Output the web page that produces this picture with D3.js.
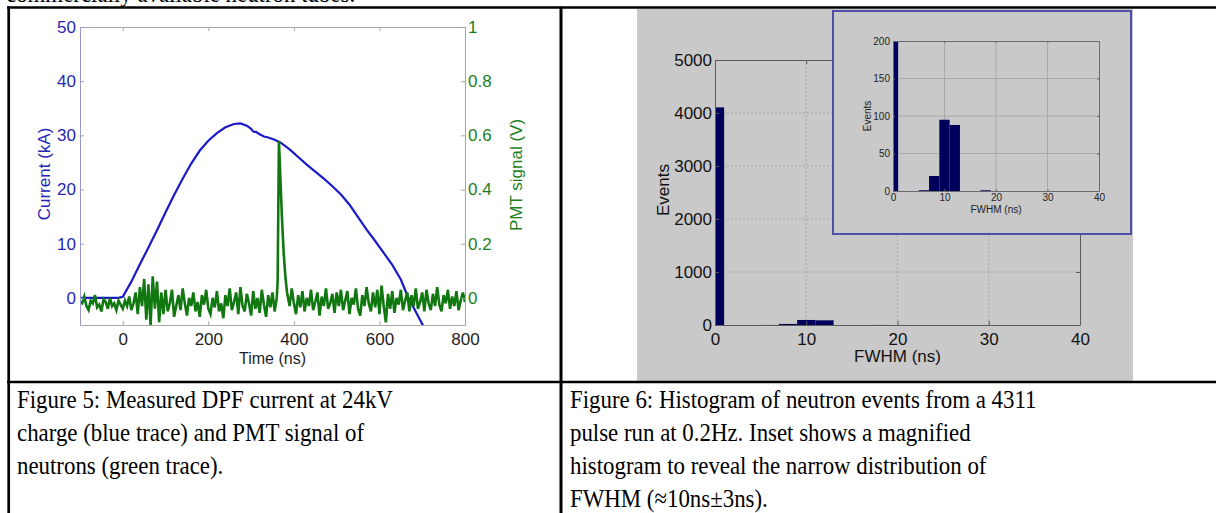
<!DOCTYPE html>
<html>
<head>
<meta charset="utf-8">
<script src="https://cdn.jsdelivr.net/npm/d3@7"></script>
<style>
  body { margin: 0; background: #fff; }
  svg { display: block; }
</style>
</head>
<body>
<svg id="page" width="1216" height="513"></svg>
<script>
// ---------- Figure 5: DPF current (kA) and PMT signal (V) vs time (ns) ----------
var currentTrace = [
  [-100, 0], [-10, 0], [0, 0.2], [20, 3], [40, 6.2], [60, 9.3], [80, 12.5], [100, 15.8],
  [120, 19], [140, 22], [160, 24.8], [180, 27.2], [200, 29], [220, 30.4], [240, 31.5],
  [260, 32.1], [275, 32.2], [290, 31.8], [300, 31.2], [305, 30.7], [312, 30.6], [320, 30.2],
  [330, 29.8], [340, 29.6], [355, 29.2], [370, 28.6], [390, 27.4], [410, 26], [430, 24.6],
  [450, 23.3], [470, 22], [490, 20.6], [510, 19.1], [530, 17.2], [550, 14.9], [570, 12.6],
  [590, 10.5], [610, 8.3], [630, 6.1], [650, 3.4], [665, 0.5], [680, -1.8], [700, -4.8], [710, -6.5]
];

var pmtTrace = [
  [-100, -0.015], [-95, -0.02], [-90, 0.005], [-85, -0.03], [-80, -0.045], [-75, -0.01], [-70, -0.02],
  [-65, 0.01], [-60, -0.035], [-55, -0.025], [-50, -0.05], [-45, -0.005], [-40, -0.015], [-35, -0.04],
  [-30, 0.0], [-25, -0.03], [-20, -0.02], [-15, -0.045], [-10, -0.01], [-5, -0.025], [0, -0.04],
  [5, -0.01], [10, -0.03], [15, 0.005], [20, -0.045], [25, -0.02], [30, 0.02], [35, -0.06],
  [40, 0.04], [45, -0.03], [50, 0.07], [55, -0.08], [60, 0.05], [65, -0.1], [70, 0.08],
  [75, -0.04], [80, 0.06], [85, -0.09], [90, 0.02], [95, -0.06], [100, 0.03], [105, -0.05],
  [110, -0.02], [115, 0.03], [120, -0.07], [125, -0.03], [130, 0.01], [135, -0.045], [140, 0.035],
  [145, -0.02], [150, -0.065], [155, 0.0], [160, -0.03], [165, 0.02], [170, -0.05], [175, -0.015],
  [180, -0.07], [185, 0.01], [190, -0.025], [195, 0.03], [200, -0.04], [205, -0.06], [210, 0.0],
  [215, -0.035], [220, 0.025], [225, -0.05], [230, -0.02], [235, -0.075], [240, 0.01], [245, -0.03],
  [250, 0.035], [255, -0.045], [260, -0.015], [265, 0.02], [270, -0.06], [275, 0.04], [280, -0.03],
  [285, -0.05], [290, 0.015], [295, -0.02], [300, -0.065], [305, 0.025], [310, -0.04], [315, 0.0],
  [320, -0.055], [325, 0.03], [330, -0.025], [335, -0.07], [340, 0.01], [345, -0.035], [350, 0.02],
  [355, -0.05], [360, 0.0], [362, 0.06], [365, 0.58], [368, 0.46], [372, 0.3], [376, 0.17],
  [380, 0.08], [384, 0.02], [390, -0.03], [395, 0.035], [400, -0.02], [405, -0.06], [410, 0.01],
  [415, -0.035], [420, 0.025], [425, -0.05], [430, 0.0], [435, -0.03], [440, 0.03], [445, -0.045],
  [450, -0.015], [455, 0.02], [460, -0.065], [465, 0.005], [470, -0.03], [475, 0.035], [480, -0.04],
  [485, -0.02], [490, 0.015], [495, -0.055], [500, 0.02], [505, -0.03], [510, 0.03], [515, -0.045],
  [520, -0.01], [525, 0.025], [530, -0.06], [535, 0.0], [540, -0.025], [545, 0.035], [550, -0.04],
  [555, -0.065], [560, 0.01], [565, -0.03], [570, 0.04], [575, -0.02], [580, -0.05], [585, 0.02],
  [590, -0.035], [595, 0.03], [600, -0.06], [605, 0.045], [610, -0.03], [615, -0.09], [620, 0.015],
  [625, -0.04], [630, 0.025], [635, -0.055], [640, 0.0], [645, -0.025], [650, 0.03], [655, -0.045],
  [660, -0.01], [665, 0.02], [670, -0.05], [675, 0.01], [680, -0.03], [685, 0.035], [690, -0.04],
  [695, -0.015], [700, 0.02], [705, -0.05], [710, 0.03], [715, -0.02], [720, -0.045], [725, 0.015],
  [730, -0.03], [735, 0.04], [740, -0.025], [745, -0.05], [750, 0.01], [755, -0.02], [760, 0.03],
  [765, -0.04], [770, 0.005], [775, -0.03], [780, 0.025], [785, -0.045], [790, -0.01], [795, 0.02],
  [800, -0.015]
];

var timeTicks = [0, 200, 400, 600, 800];
var currentTicks = [0, 10, 20, 30, 40, 50];
var pmtTicks = [0, 0.2, 0.4, 0.6, 0.8, 1];

// ---------- Figure 6: histogram of FWHM (bins 2 ns wide) ----------
var binCenters = [0, 6, 8, 10, 12, 18];
var binCounts = [4106, 1, 20, 95, 88, 1];
var binWidth = 2;
var fwhmTicks = [0, 10, 20, 30, 40];
var eventTicks = [0, 1000, 2000, 3000, 4000, 5000];
var insetEventTicks = [0, 50, 100, 150, 200];

// ---------- page text ----------
var pageTextAbove = "commercially available neutron tubes.";
var captionLeft = [
  "Figure 5: Measured DPF current at 24kV",
  "charge (blue trace) and PMT signal of",
  "neutrons (green trace)."
];
var captionRight = [
  "Figure 6: Histogram of neutron events from a 4311",
  "pulse run at 0.2Hz. Inset shows a magnified",
  "histogram to reveal the narrow distribution of",
  "FWHM (\u224810ns\u00b13ns)."
];

var sans = "'Liberation Sans', Arial, sans-serif";
var serif = "'Liberation Serif', 'Times New Roman', serif";

var svg = d3.select("#page");

// text line cut off by the top of the picture
svg.append("g").attr("transform", "translate(6,1.5) scale(0.88,1)")
  .append("text")
  .attr("font-family", serif).attr("font-size", 26)
  .text(pageTextAbove);

function styleAxis(g, lineColor, textColor, size) {
  g.attr("font-family", sans).attr("font-size", size);
  g.select(".domain").attr("stroke", lineColor);
  g.selectAll(".tick line").attr("stroke", lineColor);
  g.selectAll(".tick text").attr("fill", textColor);
}
var plain = function(d) { return String(d); };

// ================= Figure 5 =================
var x5 = d3.scaleLinear().domain([-100, 800]).range([80, 465]);
var yI = d3.scaleLinear().domain([-5, 50]).range([325, 27]);
var yV = d3.scaleLinear().domain([-0.1, 1]).range([325, 27]);

var f5 = svg.append("g");
f5.append("clipPath").attr("id", "clip5")
  .append("rect").attr("x", 80).attr("y", 27).attr("width", 385).attr("height", 298);

var lineI = d3.line().x(function(d) { return x5(d[0]); }).y(function(d) { return yI(d[1]); });
var lineV = d3.line().x(function(d) { return x5(d[0]); }).y(function(d) { return yV(d[1]); });

f5.append("path").datum(currentTrace)
  .attr("d", lineI).attr("fill", "none")
  .attr("stroke", "#1a1ac8").attr("stroke-width", 2.2)
  .attr("clip-path", "url(#clip5)");

f5.append("path").datum(pmtTrace)
  .attr("d", lineV).attr("fill", "none")
  .attr("stroke", "#117811").attr("stroke-width", 2.6)
  .attr("clip-path", "url(#clip5)");

var a5top = f5.append("g").attr("transform", "translate(0,27)")
  .call(d3.axisTop(x5).tickValues(timeTicks).tickSizeInner(-4).tickSizeOuter(0).tickFormat(""));
styleAxis(a5top, "#a8a8a8", "#222", 17);

var a5bottom = f5.append("g").attr("transform", "translate(0,325)")
  .call(d3.axisBottom(x5).tickValues(timeTicks).tickSizeInner(-4).tickSizeOuter(0).tickPadding(8).tickFormat(plain));
styleAxis(a5bottom, "#a8a8a8", "#1e1e1e", 17);

var a5left = f5.append("g").attr("transform", "translate(80,0)")
  .call(d3.axisLeft(yI).tickValues(currentTicks).tickSizeInner(-4).tickSizeOuter(0).tickPadding(4).tickFormat(plain));
styleAxis(a5left, "#9a9ad0", "#2626b4", 17);

var a5right = f5.append("g").attr("transform", "translate(465,0)")
  .call(d3.axisRight(yV).tickValues(pmtTicks).tickSizeInner(-4).tickSizeOuter(0).tickPadding(3).tickFormat(plain));
styleAxis(a5right, "#90b490", "#1e7e1e", 17);

f5.append("text").attr("x", 272.5).attr("y", 364)
  .attr("text-anchor", "middle").attr("font-family", sans).attr("font-size", 16)
  .attr("fill", "#1e1e1e").text("Time (ns)");

f5.append("text").attr("transform", "translate(50,174) rotate(-90)")
  .attr("text-anchor", "middle").attr("font-family", sans).attr("font-size", 17)
  .attr("fill", "#2626b4").text("Current (kA)");

f5.append("text").attr("transform", "translate(522,175) rotate(-90)")
  .attr("text-anchor", "middle").attr("font-family", sans).attr("font-size", 17)
  .attr("fill", "#1e7e1e").text("PMT signal (V)");

// ================= Figure 6 =================
var f6 = svg.append("g");
f6.append("rect").attr("x", 637).attr("y", 9).attr("width", 496).attr("height", 373).attr("fill", "#c9c9c9");

var x6 = d3.scaleLinear().domain([0, 40]).range([715, 1080]);
var y6 = d3.scaleLinear().domain([0, 5000]).range([325, 60]);

f6.append("clipPath").attr("id", "clip6")
  .append("rect").attr("x", 715).attr("y", 60).attr("width", 365).attr("height", 265);

var grid6 = f6.append("g").attr("stroke", "#9c9c9c").attr("stroke-dasharray", "1.5,2.5");
grid6.selectAll("line.v").data(fwhmTicks.slice(1, -1)).enter().append("line")
  .attr("x1", function(d) { return x6(d); }).attr("x2", function(d) { return x6(d); })
  .attr("y1", y6(0)).attr("y2", y6(5000));
grid6.selectAll("line.h").data(eventTicks.slice(1, -1)).enter().append("line")
  .attr("y1", function(d) { return y6(d); }).attr("y2", function(d) { return y6(d); })
  .attr("x1", x6(0)).attr("x2", x6(40));

f6.append("g").attr("clip-path", "url(#clip6)")
  .selectAll("rect").data(binCenters).enter().append("rect")
  .attr("x", function(d) { return x6(d - binWidth / 2); })
  .attr("width", function(d) { return x6(d + binWidth / 2) - x6(d - binWidth / 2); })
  .attr("y", function(d, i) { return y6(binCounts[i]); })
  .attr("height", function(d, i) { return y6(0) - y6(binCounts[i]); })
  .attr("fill", "#00005c");

var a6top = f6.append("g").attr("transform", "translate(0,60)")
  .call(d3.axisTop(x6).tickValues(fwhmTicks).tickSizeInner(-4).tickSizeOuter(0).tickFormat(""));
styleAxis(a6top, "#5c5c5c", "#111", 17);
var a6right = f6.append("g").attr("transform", "translate(1080,0)")
  .call(d3.axisRight(y6).tickValues(eventTicks).tickSizeInner(-4).tickSizeOuter(0).tickFormat(""));
styleAxis(a6right, "#5c5c5c", "#111", 17);
var a6bottom = f6.append("g").attr("transform", "translate(0,325)")
  .call(d3.axisBottom(x6).tickValues(fwhmTicks).tickSizeInner(-4).tickSizeOuter(0).tickPadding(8).tickFormat(plain));
styleAxis(a6bottom, "#5c5c5c", "#111", 17);
var a6left = f6.append("g").attr("transform", "translate(715,0)")
  .call(d3.axisLeft(y6).tickValues(eventTicks).tickSizeInner(-4).tickSizeOuter(0).tickPadding(3).tickFormat(plain));
styleAxis(a6left, "#5c5c5c", "#111", 17);

f6.append("text").attr("x", 897.5).attr("y", 362)
  .attr("text-anchor", "middle").attr("font-family", sans).attr("font-size", 17)
  .attr("fill", "#111").text("FWHM (ns)");
f6.append("text").attr("transform", "translate(669,190) rotate(-90)")
  .attr("text-anchor", "middle").attr("font-family", sans).attr("font-size", 17)
  .attr("fill", "#111").text("Events");

// ----- inset -----
f6.append("rect").attr("x", 833).attr("y", 11).attr("width", 298).attr("height", 223)
  .attr("fill", "#c9c9c9").attr("stroke", "#5050aa").attr("stroke-width", 2);

var xi = d3.scaleLinear().domain([0, 40]).range([893, 1099]);
var yi = d3.scaleLinear().domain([0, 200]).range([191, 41]);

f6.append("clipPath").attr("id", "clipInset")
  .append("rect").attr("x", 893).attr("y", 41).attr("width", 206).attr("height", 150);

var gridI = f6.append("g").attr("stroke", "#a2a2a2").attr("stroke-width", 0.8);
gridI.selectAll("line.v").data(fwhmTicks.slice(1, -1)).enter().append("line")
  .attr("x1", function(d) { return xi(d); }).attr("x2", function(d) { return xi(d); })
  .attr("y1", yi(0)).attr("y2", yi(200));
gridI.selectAll("line.h").data(insetEventTicks.slice(1, -1)).enter().append("line")
  .attr("y1", function(d) { return yi(d); }).attr("y2", function(d) { return yi(d); })
  .attr("x1", xi(0)).attr("x2", xi(40));

f6.append("g").attr("clip-path", "url(#clipInset)")
  .selectAll("rect").data(binCenters).enter().append("rect")
  .attr("x", function(d) { return xi(d - binWidth / 2); })
  .attr("width", function(d) { return xi(d + binWidth / 2) - xi(d - binWidth / 2); })
  .attr("y", function(d, i) { return yi(binCounts[i]); })
  .attr("height", function(d, i) { return yi(0) - yi(binCounts[i]); })
  .attr("fill", "#00005c");

var aItop = f6.append("g").attr("transform", "translate(0,41)")
  .call(d3.axisTop(xi).tickValues(fwhmTicks).tickSizeInner(-2).tickSizeOuter(0).tickFormat(""));
styleAxis(aItop, "#6a6a6a", "#222", 10);
var aIright = f6.append("g").attr("transform", "translate(1099,0)")
  .call(d3.axisRight(yi).tickValues(insetEventTicks).tickSizeInner(-2).tickSizeOuter(0).tickFormat(""));
styleAxis(aIright, "#6a6a6a", "#222", 10);
var aIbottom = f6.append("g").attr("transform", "translate(0,191)")
  .call(d3.axisBottom(xi).tickValues(fwhmTicks).tickSizeInner(-2).tickSizeOuter(0).tickPadding(3).tickFormat(plain));
styleAxis(aIbottom, "#6a6a6a", "#222", 10);
var aIleft = f6.append("g").attr("transform", "translate(893,0)")
  .call(d3.axisLeft(yi).tickValues(insetEventTicks).tickSizeInner(-2).tickSizeOuter(0).tickPadding(3).tickFormat(plain));
styleAxis(aIleft, "#6a6a6a", "#222", 10);

f6.append("text").attr("x", 996).attr("y", 213)
  .attr("text-anchor", "middle").attr("font-family", sans).attr("font-size", 10)
  .attr("fill", "#222").text("FWHM (ns)");
f6.append("text").attr("transform", "translate(871,116) rotate(-90)")
  .attr("text-anchor", "middle").attr("font-family", sans).attr("font-size", 10)
  .attr("fill", "#222").text("Events");

// ================= table frame and captions =================
var table = svg.append("g").attr("stroke", "#000");
table.append("line").attr("x1", 7).attr("x2", 1216).attr("y1", 7.5).attr("y2", 7.5).attr("stroke-width", 2.5);
table.append("line").attr("x1", 7).attr("x2", 1216).attr("y1", 382).attr("y2", 382).attr("stroke-width", 2.5);
table.append("line").attr("x1", 8.7).attr("x2", 8.7).attr("y1", 6.5).attr("y2", 513).attr("stroke-width", 2.7);
table.append("line").attr("x1", 561).attr("x2", 561).attr("y1", 6.5).attr("y2", 513).attr("stroke-width", 3);

// captions: Times-like text, a little narrower than normal as in the scanned page
function caption(lines, x) {
  var g = svg.append("g").attr("transform", "translate(" + x + ",408) scale(0.88,1)");
  g.selectAll("text").data(lines).enter().append("text")
    .attr("x", 0).attr("y", function(d, i) { return i * 33; })
    .attr("font-family", serif).attr("font-size", 26).attr("fill", "#000")
    .text(function(d) { return d; });
}
caption(captionLeft, 17);
caption(captionRight, 570);
</script>
</body>
</html>
